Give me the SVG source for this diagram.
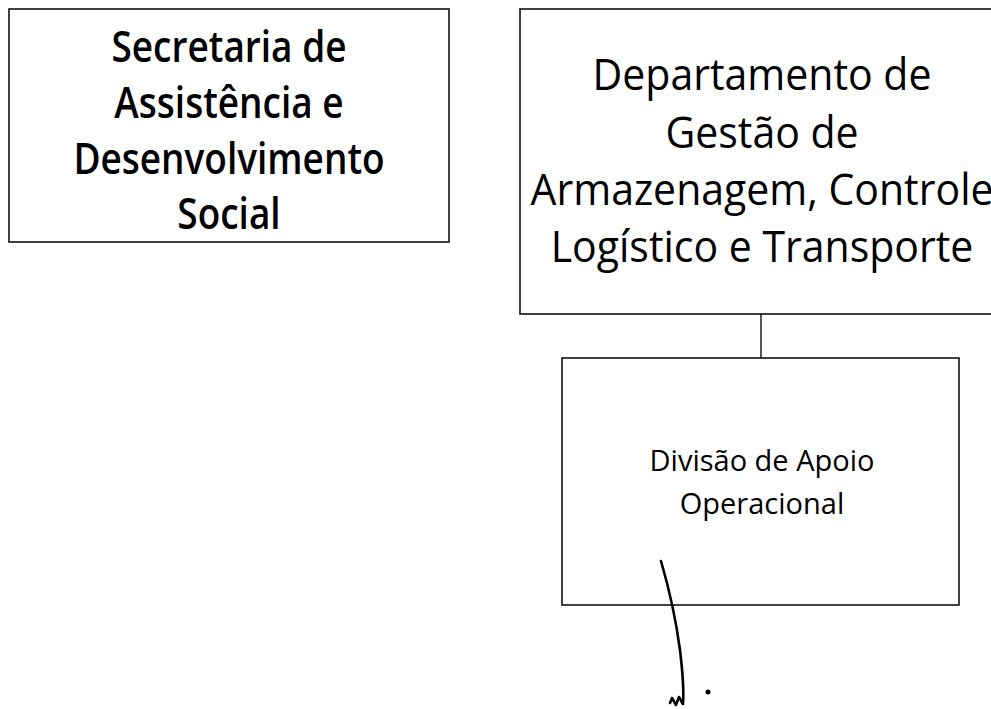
<svg xmlns="http://www.w3.org/2000/svg" width="991" height="709" viewBox="0 0 991 709">
<style>
.box{fill:#fff;stroke:#111;stroke-width:1.6}
.t1{font-family:"Open Sans","Liberation Sans",sans-serif;font-size:37px;font-weight:600;fill:#000;text-anchor:middle}
.t2{font-family:"Open Sans","Liberation Sans",sans-serif;font-size:41px;fill:#000;text-anchor:middle}
.t3{font-family:"Open Sans","Liberation Sans",sans-serif;font-size:29px;fill:#000;text-anchor:middle}
.ln{fill:none;stroke:#111;stroke-width:1.4}
</style>
<rect width="991" height="709" fill="#fff"/>
<g id="connectors">
<line class="ln" x1="761" y1="314" x2="761" y2="358"/>
</g>
<g id="secretaria">
<rect class="box" x="9" y="9" width="440" height="233"/>
<text class="t1" transform="translate(229,62) scale(1,1.15)">Secretaria de</text>
<text class="t1" transform="translate(229,118) scale(1,1.15)">Assistência e</text>
<text class="t1" transform="translate(229,174) scale(1,1.15)">Desenvolvimento</text>
<text class="t1" transform="translate(229,229) scale(1,1.15)">Social</text>
</g>
<g id="departamento">
<rect class="box" x="520" y="9" width="490" height="305"/>
<text class="t2" transform="translate(762,90) scale(1,1.06)">Departamento de</text>
<text class="t2" transform="translate(762,148) scale(1,1.06)">Gestão de</text>
<text class="t2" transform="translate(762,205) scale(1,1.06)">Armazenagem, Controle</text>
<text class="t2" transform="translate(762,262) scale(1,1.06)">Logístico e Transporte</text>
</g>
<g id="divisao">
<rect class="box" x="562" y="358" width="397" height="247"/>
<text class="t3" x="762" y="471">Divisão de Apoio</text>
<text class="t3" x="762" y="514">Operacional</text>
</g>
<g id="handmark">
<path d="M661 561 C668 585 676 620 680 650 C683 675 684 690 683 704 L679 697 L676 705 L672 698 L670 703" fill="none" stroke="#000" stroke-width="2.6" stroke-linecap="round" stroke-linejoin="round"/>
<circle cx="708" cy="692" r="2.5" fill="#000"/>
</g>
</svg>
